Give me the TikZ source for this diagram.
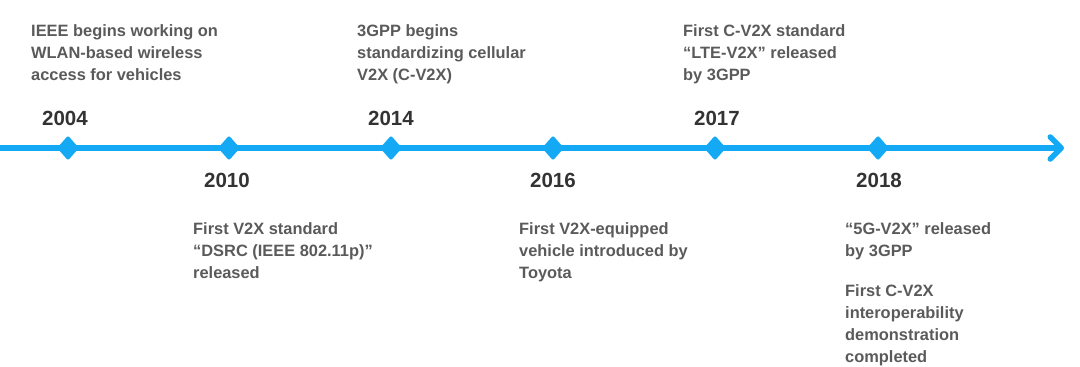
\documentclass[tikz,border=0pt]{standalone}
\usepackage{fontspec}
\setmainfont{Liberation Sans}
\usetikzlibrary{arrows.meta,shapes.geometric}
\definecolor{LineBlue}{HTML}{14A9F4}
\definecolor{NoteGrey}{HTML}{5A5A5A}
\definecolor{YearDark}{HTML}{333333}

\begin{document}
\begin{tikzpicture}[x=1pt,y=-1pt,
 note/.style={anchor=base west,align=left,inner sep=0pt,text=NoteGrey,font=\fontsize{16.4}{22}\selectfont\bfseries},
 year/.style={inner sep=0pt,text=YearDark,font=\fontsize{20.5}{24}\selectfont\bfseries},
 milestone/.style={diamond,fill=LineBlue,inner sep=0pt,minimum width=22pt,minimum height=25pt,rounded corners=2pt}]
 \useasboundingbox (0,0) rectangle (1080,367);
 % timeline
 \coordinate (tstart) at (0,148);
 \coordinate (tend) at (1064,148);
 \draw[LineBlue,line width=5.5pt,-{Straight Barb[length=11pt,width=22pt,round]}] (tstart) -- (tend);
 \node[milestone] (m2004) at (68,148) {};
 \node[milestone] (m2010) at (229,148) {};
 \node[milestone] (m2014) at (391,148) {};
 \node[milestone] (m2016) at (553,148) {};
 \node[milestone] (m2017) at (715,148) {};
 \node[milestone] (m2018) at (878,148) {};
 % years
 \node[year] (y2004) at (65,118) {2004};
 \node[year] (y2010) at (227,180) {2010};
 \node[year] (y2014) at (391,118) {2014};
 \node[year] (y2016) at (553,180) {2016};
 \node[year] (y2017) at (717,118) {2017};
 \node[year] (y2018) at (879,180) {2018};
 % events above (anchored at last baseline)
 \node[note] (e2004) at (31,80) {IEEE begins working on\\WLAN-based wireless\\access for vehicles};
 \node[note] (e2014) at (357,80) {3GPP begins\\standardizing cellular\\V2X (C-V2X)};
 \node[note] (e2017) at (683,80) {First C-V2X standard\\“LTE-V2X” released\\by 3GPP};
 % events below
 \node[note] (e2010) at (193,278) {First V2X standard\\“DSRC (IEEE 802.11p)”\\released};
 \node[note] (e2016) at (519,278) {First V2X-equipped\\vehicle introduced by\\Toyota};
 \node[note] (e2018a) at (845,256) {“5G-V2X” released\\by 3GPP};
 \node[note] (e2018b) at (845,362) {First C-V2X\\interoperability\\demonstration\\completed};
\end{tikzpicture}
\end{document}
